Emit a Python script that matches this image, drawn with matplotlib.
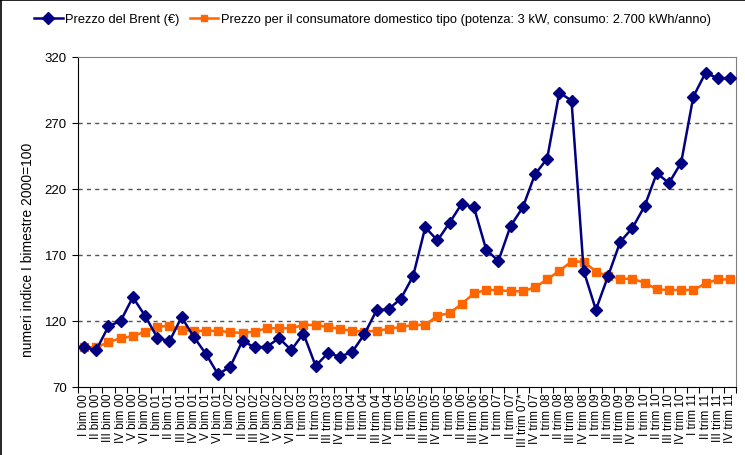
import numpy as np
import matplotlib
matplotlib.use('Agg')
import matplotlib.pyplot as plt
from matplotlib.lines import Line2D

plt.rcParams['font.family'] = ['Liberation Sans', 'DejaVu Sans']

ROMAN_BIM = ['I', 'II', 'III', 'IV', 'V', 'VI']
ROMAN_TRIM = ['I', 'II', 'III', 'IV']

categories = []
for yy in ['00', '01', '02']:
    for r in ROMAN_BIM:
        categories.append(f'{r} bim {yy}')
for yy in ['03', '04', '05', '06', '07', '08', '09', '10', '11']:
    for r in ROMAN_TRIM:
        lab = f'{r} trim {yy}'
        if lab == 'III trim 07':
            lab += '*'
        categories.append(lab)

brent = [100, 98, 116, 120, 138, 124, 107.5, 104.5, 123, 108, 95, 79.5, 85.5, 105,
         100, 100.5, 107, 98, 110.5, 86, 95.5, 93, 96.5, 110, 128, 129,
         137, 154, 191, 181, 194.5, 209, 206, 174, 165.5, 192, 206, 231,
         243, 293, 287, 158, 128.5, 154, 180, 190.5, 207, 232, 224.5, 240,
         290, 308, 304, 304]

consumer = [100, 100, 104, 107, 108.5, 112, 115.5, 116.5, 113, 112.5, 112.5, 112.5, 111.5, 111,
            112, 114.5, 114.5, 114.5, 117, 117, 115.5, 114, 112.5, 112, 112.5, 114,
            115.5, 117, 117, 124, 126, 133, 141, 143.5, 143.5, 142.5, 142.5, 145.5,
            151.5, 158, 165, 165, 157.5, 154, 152, 152, 149, 144, 143.5, 143.5,
            143.5, 148.5, 151.5, 151.5]

BLUE = '#000080'
ORANGE = '#FF6600'

fig = plt.figure(figsize=(7.45, 4.56), dpi=100)
ax = fig.add_axes([78/745, 1 - 388/456, (736 - 78)/745, (388 - 58)/456])

x = np.arange(len(categories))
ax.plot(x, brent, color=BLUE, lw=1.8, marker='D', ms=6.5, mec=BLUE, mfc=BLUE, zorder=3)
ax.plot(x, consumer, color=ORANGE, lw=1.8, marker='s', ms=5.5, mec=ORANGE, mfc=ORANGE, zorder=2)

ax.set_xlim(-0.5, len(categories) - 0.5)
ax.set_ylim(70, 320)
ax.set_yticks([70, 120, 170, 220, 270, 320])

# category boundaries as tick marks, labels centered on categories
ax.set_xticks(np.arange(-0.5, len(categories), 1))
ax.set_xticklabels([])
ax.set_xticks(x, minor=True)
ax.set_xticklabels(categories, minor=True, rotation=90, fontsize=8.5)
ax.tick_params(axis='x', which='major', length=4, direction='out', color='black')
ax.tick_params(axis='x', which='minor', length=0, pad=4)
ax.tick_params(axis='y', length=4, direction='out', labelsize=9.5, pad=4)

for v in [120, 170, 220, 270]:
    ax.axhline(v, color='#555555', lw=1, ls=(0, (3, 3)), zorder=1)

ax.spines['top'].set_color('#808080')
ax.spines['right'].set_color('#808080')
ax.spines['left'].set_color('black')
ax.spines['bottom'].set_color('black')

ax.set_ylabel('numeri indice I bimestre 2000=100', fontsize=10)
ax.yaxis.set_label_coords((35 - 78) / 658, (388 - 250) / 330)

handles = [
    Line2D([], [], color=BLUE, lw=1.8, marker='D', ms=6, mfc=BLUE, mec=BLUE),
    Line2D([], [], color=ORANGE, lw=1.8, marker='s', ms=5, mfc=ORANGE, mec=ORANGE),
]
labels = ['Prezzo del Brent (€)',
          'Prezzo per il consumatore domestico tipo (potenza: 3 kW, consumo: 2.700 kWh/anno)']
fig.legend(handles, labels, loc='center', bbox_to_anchor=(0.50, 1 - 20/456), ncol=2,
           frameon=False, fontsize=9.3, handlelength=2.2, handletextpad=0.2, columnspacing=0.8)

# outer frame lines (left and top)
fig.add_artist(Line2D([1/745, 1/745], [0, 1], color='black', lw=1.2, transform=fig.transFigure))
fig.add_artist(Line2D([0, 1], [1 - 1/456, 1 - 1/456], color='black', lw=1.2, transform=fig.transFigure))

fig.savefig('out.png', dpi=100)
